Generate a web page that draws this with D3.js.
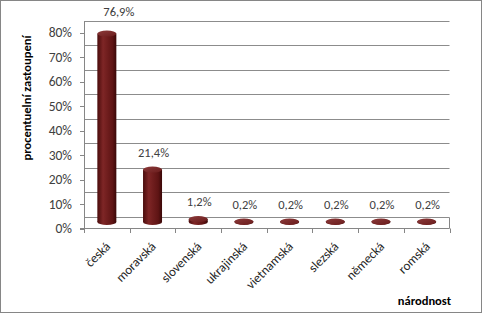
<!DOCTYPE html>
<meta charset="utf-8">
<script src="https://d3js.org/d3.v7.min.js"></script>
<style>
body { margin: 0; background: #fff; }
text { font-family: Carlito, Calibri, Lato, sans-serif; }
</style>
<svg id="chart" width="483" height="314"></svg>
<script>
// data
var categories = ["česká", "moravská", "slovenská", "ukrajinská", "vietnamská", "slezská", "německá", "romská"];
var values = [76.9, 21.4, 1.2, 0.2, 0.2, 0.2, 0.2, 0.2];
var valueLabels = ["76,9%", "21,4%", "1,2%", "0,2%", "0,2%", "0,2%", "0,2%", "0,2%"];
var yTicks = [0, 10, 20, 30, 40, 50, 60, 70, 80];

var svg = d3.select("#chart");

// outer border
svg.append("rect")
  .attr("x", 0.5).attr("y", 0.5)
  .attr("width", 481).attr("height", 312)
  .attr("fill", "#fff").attr("stroke", "#868686");

var left = 84, right = 449.5;
var depth = 12; // back wall sits this many px above the front edge

var x = d3.scaleBand().domain(categories).range([left, right]).padding(0);
var yFront = d3.scaleLinear().domain([0, 80]).range([228.5, 32.5]);
var yBack = function(v) { return yFront(v) - depth; };
var yMid = function(v) { return yFront(v) - depth / 2 - 0.5; };

// gradient for cylinders
var defs = svg.append("defs");
var g1 = defs.append("linearGradient").attr("id", "body").attr("x1", "0").attr("x2", "1").attr("y1", "0").attr("y2", "0");
g1.append("stop").attr("offset", "0%").attr("stop-color", "#4a0c0c");
g1.append("stop").attr("offset", "30%").attr("stop-color", "#7e2626");
g1.append("stop").attr("offset", "45%").attr("stop-color", "#742020");
g1.append("stop").attr("offset", "80%").attr("stop-color", "#5e1414");
g1.append("stop").attr("offset", "100%").attr("stop-color", "#3a0808");
var g2 = defs.append("linearGradient").attr("id", "top").attr("x1", "0").attr("x2", "1").attr("y1", "0").attr("y2", "1");
g2.append("stop").attr("offset", "0%").attr("stop-color", "#8c3a3a");
g2.append("stop").attr("offset", "100%").attr("stop-color", "#6a1c1c");

// gridlines on back wall
svg.append("g")
  .selectAll("line")
  .data(yTicks)
  .enter()
  .append("line")
    .attr("x1", left).attr("x2", right)
    .attr("y1", function(d) { return Math.round(yBack(d)) + 0.5; })
    .attr("y2", function(d) { return Math.round(yBack(d)) + 0.5; })
    .attr("stroke", "#8c8c8c");

// floor front edge + right side
svg.append("line")
  .attr("x1", left - 4).attr("x2", right)
  .attr("y1", 228.5).attr("y2", 228.5)
  .attr("stroke", "#868686");
svg.append("line")
  .attr("x1", right).attr("x2", right)
  .attr("y1", Math.round(yBack(0)) + 0.5).attr("y2", 228.5)
  .attr("stroke", "#868686");

// y axis
svg.append("line")
  .attr("x1", left + 0.5).attr("x2", left + 0.5)
  .attr("y1", Math.round(yBack(80)) + 0.5).attr("y2", 232)
  .attr("stroke", "#868686");

svg.append("g")
  .selectAll("line")
  .data(yTicks)
  .enter()
  .append("line")
    .attr("x1", left - 4).attr("x2", left)
    .attr("y1", function(d) { return Math.round(yFront(d)) + 0.5; })
    .attr("y2", function(d) { return Math.round(yFront(d)) + 0.5; })
    .attr("stroke", "#868686");

svg.append("g")
  .selectAll("text")
  .data(yTicks)
  .enter()
  .append("text")
    .attr("x", 72)
    .attr("y", function(d) { return yFront(d); })
    .attr("dy", "0.35em")
    .attr("text-anchor", "end")
    .style("font-size", "13.5px")
    .style("fill", "#404040")
    .text(function(d) { return d + "%"; });

// x ticks
svg.append("g")
  .selectAll("line")
  .data(categories.concat(["_end"]))
  .enter()
  .append("line")
    .attr("x1", function(d, i) { return Math.round(left + i * x.bandwidth()) + 0.5; })
    .attr("x2", function(d, i) { return Math.round(left + i * x.bandwidth()) + 0.5; })
    .attr("y1", 228.5).attr("y2", 233)
    .attr("stroke", "#868686");

// cylinders
var cw = 19, ry = 3;
var cyl = svg.append("g")
  .selectAll("g")
  .data(categories)
  .enter()
  .append("g");

cyl.append("ellipse")
  .attr("cx", function(d) { return x(d) + x.bandwidth() / 2; })
  .attr("cy", yMid(0))
  .attr("rx", cw / 2).attr("ry", ry)
  .attr("fill", "url(#body)");

cyl.append("rect")
  .attr("x", function(d) { return x(d) + x.bandwidth() / 2 - cw / 2; })
  .attr("y", function(d, i) { return yMid(values[i]); })
  .attr("width", cw)
  .attr("height", function(d, i) { return yMid(0) - yMid(values[i]); })
  .attr("fill", "url(#body)");

cyl.append("ellipse")
  .attr("cx", function(d) { return x(d) + x.bandwidth() / 2; })
  .attr("cy", function(d, i) { return yMid(values[i]); })
  .attr("rx", cw / 2).attr("ry", ry)
  .attr("fill", "url(#top)");

// value labels
svg.append("g")
  .selectAll("text")
  .data(categories)
  .enter()
  .append("text")
    .attr("x", function(d, i) {
      var cx = x(d) + x.bandwidth() / 2 + 1;
      return yMid(values[i]) - 17 < yBack(80) ? cx + 11 : cx;
    })
    .attr("y", function(d, i) {
      var ly = yMid(values[i]) - 17;
      return ly < yBack(80) ? 12 : ly;
    })
    .attr("dy", "0.35em")
    .attr("text-anchor", "middle")
    .style("font-size", "12.5px")
    .style("fill", "#404040")
    .text(function(d, i) { return valueLabels[i]; });

// category labels
svg.append("g")
  .selectAll("text")
  .data(categories)
  .enter()
  .append("text")
    .attr("transform", function(d) {
      return "translate(" + (x(d) + x.bandwidth() / 2 + 1) + ",244) rotate(-45)";
    })
    .attr("text-anchor", "end")
    .attr("dy", "0.35em")
    .style("font-size", "13px")
    .style("fill", "#262626")
    .text(function(d) { return d; });

// axis titles
svg.append("text")
  .attr("transform", "translate(31,98) rotate(-90)")
  .attr("text-anchor", "middle")
  .style("font-size", "12.5px")
  .style("font-weight", "bold")
  .style("fill", "#000")
  .text("procentuelní zastoupení");

svg.append("text")
  .attr("x", 451)
  .attr("y", 305)
  .attr("text-anchor", "end")
  .style("font-size", "12.5px")
  .style("font-weight", "bold")
  .style("fill", "#000")
  .text("národnost");
</script>
